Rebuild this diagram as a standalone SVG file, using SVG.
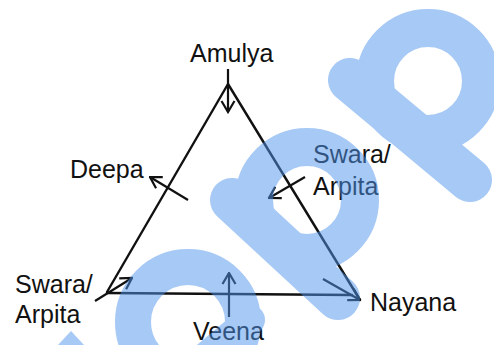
<svg xmlns="http://www.w3.org/2000/svg" width="494" height="345" viewBox="0 0 494 345">
<style>
  .lbl{font-family:"Liberation Sans",Arial,sans-serif;font-size:25px;fill:#111}
  .edge{stroke:#111;stroke-width:2.4;fill:none;stroke-linecap:round;stroke-linejoin:round}
  .arr{stroke:#111;stroke-width:2.2;fill:none;marker-end:url(#ah)}
  .wm{fill:none;stroke:#5094EC;stroke-linecap:round}
</style>
<defs>
  <marker id="ah" markerUnits="userSpaceOnUse" markerWidth="14" markerHeight="16" viewBox="0 0 14 16" refX="12.5" refY="8" orient="auto">
    <path d="M1.5,1.5 L12.5,8 L1.5,14.5" fill="none" stroke="#111" stroke-width="2.2"/>
  </marker>
</defs>
<rect width="494" height="345" fill="#fff"/>
<g id="connectors">
  <path class="edge" d="M107,292 L228,84 L360,300"/>
  <path class="edge" d="M107,293 L352,295"/>
  <path class="arr" d="M228,69 L228,112"/>
  <path class="arr" d="M188,200 L150,177"/>
  <path class="arr" d="M305,177 L269,198"/>
  <path class="arr" d="M95,301 L132,278"/>
  <path class="arr" d="M229,317 L229,273"/>
  <path class="arr" d="M323,279 L360,300"/>
</g>
<g id="node-amulya"><text class="lbl" x="190" y="62">Amulya</text></g>
<g id="node-deepa"><text class="lbl" x="70" y="178">Deepa</text></g>
<g id="node-swara-right"><text class="lbl" x="313" y="163">Swara/</text><text class="lbl" x="313" y="195">Arpita</text></g>
<g id="node-swara-left"><text class="lbl" x="15" y="293">Swara/</text><text class="lbl" x="15" y="323">Arpita</text></g>
<g id="node-veena"><text class="lbl" x="193" y="340">Veena</text></g>
<g id="node-nayana"><text class="lbl" x="370" y="311">Nayana</text></g>
<g id="watermark" opacity="0.5">
  <circle class="wm" cx="428" cy="81" r="53" stroke-width="38"/>
  <line class="wm" x1="350" y1="80" x2="470" y2="180" stroke-width="44"/>
  <circle class="wm" cx="307" cy="200" r="53" stroke-width="38"/>
  <line class="wm" x1="232" y1="200" x2="338" y2="298" stroke-width="44"/>
  <circle class="wm" cx="188" cy="322" r="55" stroke-width="36"/>
  <line class="wm" x1="200" y1="362" x2="250" y2="320" stroke-width="30"/>
  <polygon points="58,345 71,331 84,345" fill="#5094EC"/>
</g>
</svg>
